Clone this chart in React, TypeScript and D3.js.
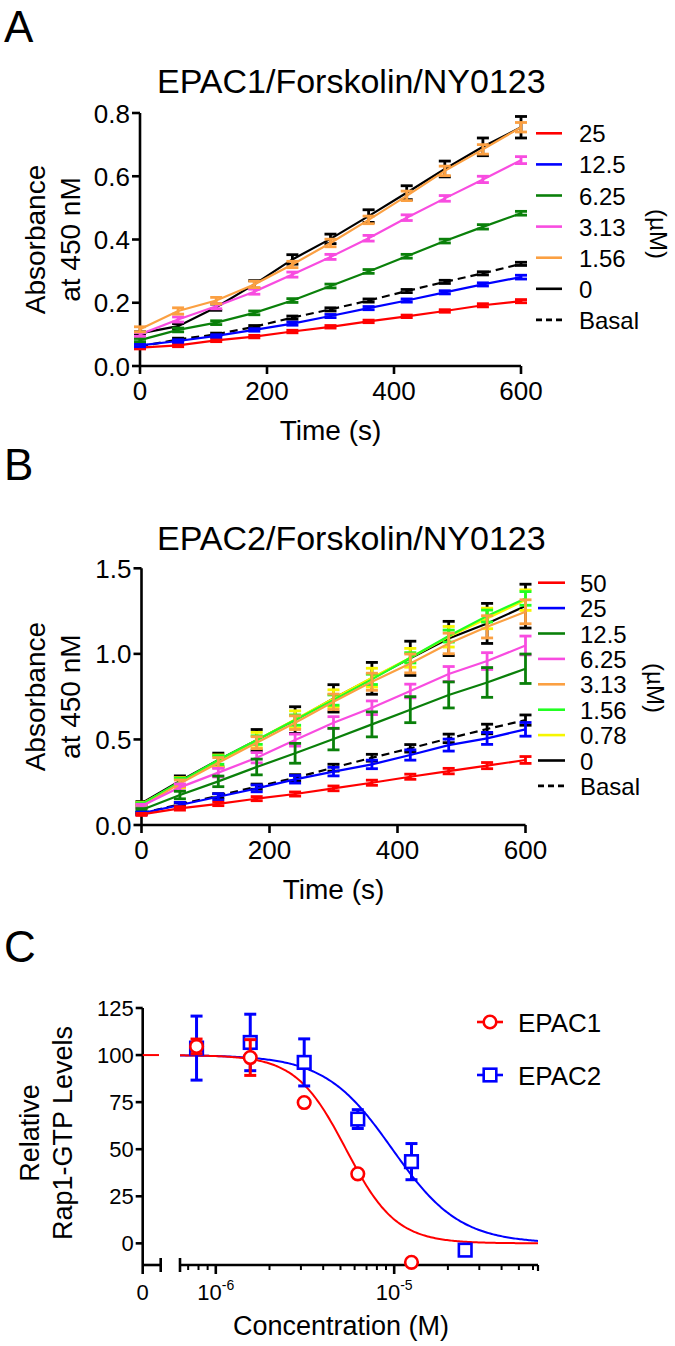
import React from "react";
import * as d3 from "d3";

const FONT = "'Liberation Sans', Arial, Helvetica, sans-serif";

const times = [0, 60, 120, 180, 240, 300, 360, 420, 480, 540, 600];

// ---------- Panel A : EPAC1/Forskolin/NY0123 ----------
const aNames = ["25", "12.5", "6.25", "3.13", "1.56", "0", "Basal"];
const a25 = [0.058, 0.065, 0.081, 0.093, 0.109, 0.124, 0.141, 0.157, 0.174, 0.192, 0.205];
const a25e = [0.004, 0.004, 0.004, 0.004, 0.004, 0.004, 0.004, 0.004, 0.004, 0.005, 0.005];
const a12_5 = [0.065, 0.079, 0.095, 0.114, 0.134, 0.158, 0.183, 0.207, 0.233, 0.258, 0.281];
const a12_5e = [0.004, 0.004, 0.004, 0.004, 0.005, 0.005, 0.005, 0.005, 0.005, 0.005, 0.006];
const a6_25 = [0.082, 0.114, 0.137, 0.168, 0.207, 0.253, 0.299, 0.347, 0.395, 0.44, 0.483];
const a6_25e = [0.005, 0.006, 0.006, 0.006, 0.006, 0.006, 0.006, 0.006, 0.006, 0.007, 0.006];
const a3_13 = [0.1, 0.147, 0.189, 0.235, 0.289, 0.345, 0.404, 0.469, 0.53, 0.59, 0.651];
const a3_13e = [0.006, 0.008, 0.008, 0.008, 0.008, 0.008, 0.009, 0.009, 0.009, 0.01, 0.011];
const a1_56 = [0.116, 0.174, 0.207, 0.258, 0.321, 0.389, 0.462, 0.538, 0.617, 0.685, 0.755];
const a1_56e = [0.008, 0.01, 0.01, 0.01, 0.01, 0.012, 0.012, 0.015, 0.015, 0.015, 0.015];
const a0 = [0.103, 0.126, 0.186, 0.258, 0.337, 0.402, 0.474, 0.548, 0.623, 0.693, 0.755];
const a0e = [0.005, 0.008, 0.01, 0.012, 0.015, 0.015, 0.02, 0.022, 0.025, 0.028, 0.034];
const aBasal = [0.062, 0.084, 0.1, 0.124, 0.153, 0.179, 0.207, 0.237, 0.266, 0.293, 0.323];
const aBasale = [0.004, 0.004, 0.004, 0.004, 0.005, 0.005, 0.005, 0.005, 0.005, 0.005, 0.005];
const aYTicks = [0, 0.2, 0.4, 0.6, 0.8];
const xTicks = [0, 200, 400, 600];

// ---------- Panel B : EPAC2/Forskolin/NY0123 ----------
const bNames = ["50", "25", "12.5", "6.25", "3.13", "1.56", "0.78", "0", "Basal"];
const b50 = [0.062, 0.097, 0.123, 0.154, 0.181, 0.214, 0.247, 0.282, 0.315, 0.347, 0.38];
const b50e = [0.006, 0.01, 0.01, 0.012, 0.012, 0.014, 0.015, 0.015, 0.016, 0.018, 0.02];
const b25 = [0.068, 0.117, 0.165, 0.214, 0.267, 0.312, 0.354, 0.409, 0.467, 0.506, 0.559];
const b25e = [0.008, 0.015, 0.018, 0.02, 0.022, 0.025, 0.025, 0.03, 0.035, 0.035, 0.04];
const b12_5 = [0.088, 0.175, 0.255, 0.339, 0.419, 0.502, 0.588, 0.674, 0.76, 0.833, 0.913];
const b12_5e = [0.008, 0.022, 0.031, 0.046, 0.058, 0.063, 0.073, 0.076, 0.076, 0.087, 0.086];
const b6_25 = [0.111, 0.22, 0.306, 0.393, 0.496, 0.598, 0.685, 0.783, 0.882, 0.958, 1.049];
const b6_25e = [0.01, 0.02, 0.025, 0.03, 0.035, 0.035, 0.04, 0.04, 0.044, 0.049, 0.055];
const b3_13 = [0.107, 0.243, 0.364, 0.481, 0.598, 0.72, 0.837, 0.944, 1.061, 1.158, 1.246];
const b3_13e = [0.01, 0.02, 0.03, 0.035, 0.04, 0.045, 0.05, 0.055, 0.06, 0.065, 0.07];
const b1_56 = [0.12, 0.253, 0.38, 0.496, 0.613, 0.73, 0.851, 0.977, 1.104, 1.221, 1.324];
const b1_56e = [0.01, 0.02, 0.025, 0.025, 0.03, 0.03, 0.03, 0.03, 0.035, 0.035, 0.04];
const b0_78 = [0.123, 0.247, 0.374, 0.496, 0.617, 0.74, 0.861, 0.977, 1.1, 1.207, 1.314];
const b0_78e = [0.01, 0.03, 0.035, 0.045, 0.05, 0.05, 0.055, 0.055, 0.06, 0.06, 0.06];
const b0 = [0.127, 0.257, 0.38, 0.496, 0.613, 0.74, 0.857, 0.974, 1.09, 1.178, 1.279];
const b0e = [0.01, 0.03, 0.04, 0.062, 0.078, 0.08, 0.093, 0.1, 0.1, 0.117, 0.128];
const bBasal = [0.068, 0.121, 0.171, 0.224, 0.276, 0.335, 0.393, 0.448, 0.506, 0.561, 0.613];
const bBasale = [0.006, 0.01, 0.012, 0.015, 0.018, 0.02, 0.02, 0.022, 0.025, 0.028, 0.03];
const bYTicks = [0, 0.5, 1.0, 1.5];

// ---------- Panel C : dose response ----------
const c1Conc = [0.78e-6, 1.56e-6, 3.13e-6, 6.25e-6, 12.5e-6];
const c1Mean = [104.6, 98.7, 74.8, 36.9, -10.1];
const c1Err = [3.9, 9.5, 0, 0, 0];
const c2Conc = [0.78e-6, 1.56e-6, 3.13e-6, 6.25e-6, 12.5e-6, 25e-6];
const c2Mean = [103.7, 106.7, 96.1, 66.0, 43.4, -3.6];
const c2Err = [17, 15, 12.5, 5, 9.6, 0];
// fitted 4-parameter logistic (top, bottom, logIC50, hill)
const c1Fit = [100, 0, -5.27, 3.1];
const c2Fit = [100, 0, -5.01, 2.3];
const cYTicks = [0, 25, 50, 75, 100, 125];
const cNames = ["EPAC1", "EPAC2"];

const RED = "#ff0000";
const BLUE = "#0000ff";
const DKGREEN = "#0a800a";
const MAGENTA = "#f84ce0";
const ORANGE = "#fba042";
const LTGREEN = "#22ff22";
const YELLOW = "#f6f600";
const BLACK = "#000000";

type Series = { name: string; color: string; dashed?: boolean; mean: number[]; err: number[] };

function LinePanel(props: {
  x: d3.ScaleLinear<number, number>;
  y: d3.ScaleLinear<number, number>;
  series: Series[];
  order: number[];
  yTicks: number[];
  title: string;
  titleY: number;
  letter: string;
  letterY: number;
  legTop: number;
  legStep: number;
  legX1: number;
  legX2: number;
  legTextX: number;
  unitX: number;
  unitY: number;
}) {
  const { x, y, series, order, yTicks } = props;
  const [x0, x1] = x.range();
  const [yb, yt] = y.range();
  const yMid = (yb + yt) / 2;
  const line = d3
    .line<number>()
    .x((_, i) => x(times[i]))
    .y((d) => y(d));
  const fmt = d3.format(".1f");
  return (
    <g>
      <text x={4} y={props.letterY} fontSize={44}>
        {props.letter}
      </text>
      <text x={157} y={props.titleY} fontSize={34}>
        {props.title}
      </text>
      {/* axes */}
      <line x1={x0} x2={x0} y1={yt} y2={yb} stroke="#000" strokeWidth={2.6} />
      <line x1={x0} x2={x1} y1={yb} y2={yb} stroke="#000" strokeWidth={2.6} />
      {yTicks.map((t) => (
        <g key={"yt" + t}>
          <line x1={x0 - 8} x2={x0} y1={y(t)} y2={y(t)} stroke="#000" strokeWidth={2.6} />
          <text x={x0 - 10} y={y(t) + 9.5} fontSize={26} textAnchor="end">
            {fmt(t)}
          </text>
        </g>
      ))}
      {xTicks.map((t) => (
        <g key={"xt" + t}>
          <line x1={x(t)} x2={x(t)} y1={yb} y2={yb + 8} stroke="#000" strokeWidth={2.6} />
          <text x={x(t)} y={yb + 34} fontSize={26} textAnchor="middle">
            {t}
          </text>
        </g>
      ))}
      <text x={(x0 + x1) / 2} y={yb + 74} fontSize={28} textAnchor="middle">
        Time (s)
      </text>
      <text transform={`translate(45,${yMid}) rotate(-90)`} fontSize={28} textAnchor="middle">
        Absorbance
      </text>
      <text transform={`translate(80,${yMid}) rotate(-90)`} fontSize={28} textAnchor="middle">
        at 450 nM
      </text>
      {/* series */}
      {order.map((si) => {
        const s = series[si];
        return (
          <g key={"s" + si}>
            <path
              d={line(s.mean) || ""}
              fill="none"
              stroke={s.color}
              strokeWidth={2.2}
              strokeDasharray={s.dashed ? "8,5" : undefined}
            />
            {s.mean.map((m, i) => {
              const cx = x(times[i]);
              const ya = y(m + s.err[i]);
              const yb2 = y(m - s.err[i]);
              return (
                <g key={i} stroke={s.color} strokeWidth={2.8}>
                  <line x1={cx} x2={cx} y1={ya} y2={yb2} />
                  <line x1={cx - 6} x2={cx + 6} y1={ya} y2={ya} />
                  <line x1={cx - 6} x2={cx + 6} y1={yb2} y2={yb2} />
                </g>
              );
            })}
          </g>
        );
      })}
      {/* legend */}
      {series.map((s, i) => {
        const ly = props.legTop + i * props.legStep;
        return (
          <g key={"l" + i}>
            <line
              x1={props.legX1}
              x2={props.legX2}
              y1={ly}
              y2={ly}
              stroke={s.color}
              strokeWidth={2.6}
              strokeDasharray={s.dashed ? "6,4" : undefined}
            />
            <text x={props.legTextX} y={ly + 9} fontSize={24}>
              {s.name}
            </text>
          </g>
        );
      })}
      <text
        transform={`translate(${props.unitX},${props.unitY}) rotate(90)`}
        fontSize={24}
        textAnchor="middle"
        dy="0.35em"
      >
        (µM)
      </text>
    </g>
  );
}

function DosePanel() {
  const xC = d3.scaleLog().domain([6.3e-7, 6.4e-5]).range([180, 538]);
  const yC = d3.scaleLinear().domain([-11.5, 125]).range([1265, 1008]);
  const yAxisX = 142.7;
  const axY = yC.range()[0];
  const lo = Math.log10(xC.domain()[0]);
  const hi = Math.log10(xC.domain()[1]);
  const samples = d3.range(0, 241).map((i) => Math.pow(10, lo + ((hi - lo) * i) / 240));
  const logistic = (p: number[]) => (c: number) =>
    p[1] + (p[0] - p[1]) / (1 + Math.pow(10, (Math.log10(c) - p[2]) * p[3]));
  const curve = (p: number[]) =>
    d3
      .line<number>()
      .x((c) => xC(c))
      .y((c) => yC(logistic(p)(c)))(samples) || "";
  const ticks = xC.ticks();
  const isMajor = (t: number) => Math.abs(Math.log10(t) - Math.round(Math.log10(t))) < 1e-6;
  const errBars = (conc: number[], mean: number[], err: number[], color: string) =>
    conc.map((c, i) =>
      err[i] > 0 ? (
        <g key={"e" + i} stroke={color} strokeWidth={3}>
          <line x1={xC(c)} x2={xC(c)} y1={yC(mean[i] + err[i])} y2={yC(mean[i] - err[i])} />
          <line x1={xC(c) - 6} x2={xC(c) + 6} y1={yC(mean[i] + err[i])} y2={yC(mean[i] + err[i])} />
          <line x1={xC(c) - 6} x2={xC(c) + 6} y1={yC(mean[i] - err[i])} y2={yC(mean[i] - err[i])} />
        </g>
      ) : null
    );
  return (
    <g>
      <text x={4} y={962} fontSize={44}>
        C
      </text>
      {/* y axis */}
      <line x1={yAxisX} x2={yAxisX} y1={yC(125)} y2={axY} stroke="#000" strokeWidth={2.6} />
      {cYTicks.map((t) => (
        <g key={"cy" + t}>
          <line x1={yAxisX - 7} x2={yAxisX} y1={yC(t)} y2={yC(t)} stroke="#000" strokeWidth={2.6} />
          <text x={yAxisX - 9} y={yC(t) + 8} fontSize={22} textAnchor="end">
            {t}
          </text>
        </g>
      ))}
      {/* x axis: zero segment */}
      <line x1={yAxisX} x2={160.7} y1={axY} y2={axY} stroke="#000" strokeWidth={2.6} />
      <line x1={160.7} x2={160.7} y1={axY - 7} y2={axY + 7} stroke="#000" strokeWidth={2.6} />
      <line x1={yAxisX} x2={yAxisX} y1={axY} y2={axY + 9} stroke="#000" strokeWidth={2.6} />
      <text x={yAxisX} y={1300} fontSize={22} textAnchor="middle">
        0
      </text>
      {/* x axis: log segment */}
      <line x1={xC.range()[0]} x2={xC.range()[1]} y1={axY} y2={axY} stroke="#000" strokeWidth={2.6} />
      <line x1={xC.range()[0]} x2={xC.range()[0]} y1={axY - 7} y2={axY + 7} stroke="#000" strokeWidth={2.6} />
      <line x1={xC.range()[1]} x2={xC.range()[1]} y1={axY} y2={axY + 6} stroke="#000" strokeWidth={2.2} />
      {ticks.map((t, i) => (
        <line
          key={"xt" + i}
          x1={xC(t)}
          x2={xC(t)}
          y1={axY}
          y2={axY + (isMajor(t) ? 9 : 5)}
          stroke="#000"
          strokeWidth={isMajor(t) ? 2.6 : 2}
        />
      ))}
      {ticks.filter(isMajor).map((t, i) => (
        <text key={"xl" + i} x={xC(t)} y={1300} fontSize={22} textAnchor="middle">
          10
          <tspan fontSize={14} dy={-10}>
            {Math.round(Math.log10(t))}
          </tspan>
        </text>
      ))}
      <text x={341} y={1335} fontSize={27} textAnchor="middle">
        Concentration (M)
      </text>
      <text transform={`translate(39,1133) rotate(-90)`} fontSize={27} textAnchor="middle">
        Relative
      </text>
      <text transform={`translate(72,1133) rotate(-90)`} fontSize={27} textAnchor="middle">
        Rap1-GTP Levels
      </text>
      {/* fits */}
      <line x1={yAxisX} x2={159} y1={yC(100)} y2={yC(100)} stroke={RED} strokeWidth={2} />
      <path d={curve(c2Fit)} fill="none" stroke={BLUE} strokeWidth={2} />
      <path d={curve(c1Fit)} fill="none" stroke={RED} strokeWidth={2} />
      {/* EPAC2 */}
      {errBars(c2Conc, c2Mean, c2Err, BLUE)}
      {c2Conc.map((c, i) => (
        <rect
          key={"sq" + i}
          x={xC(c) - 6.3}
          y={yC(c2Mean[i]) - 6.3}
          width={12.6}
          height={12.6}
          fill="#fff"
          stroke={BLUE}
          strokeWidth={2.6}
        />
      ))}
      {/* EPAC1 */}
      {errBars(c1Conc, c1Mean, c1Err, RED)}
      {c1Conc.map((c, i) => (
        <circle key={"ci" + i} cx={xC(c)} cy={yC(c1Mean[i])} r={6.3} fill="#fff" stroke={RED} strokeWidth={2.6} />
      ))}
      {/* legend */}
      <line x1={477} x2={503} y1={1022} y2={1022} stroke={RED} strokeWidth={2.6} />
      <circle cx={490} cy={1022} r={6.3} fill="#fff" stroke={RED} strokeWidth={2.6} />
      <text x={518} y={1031.5} fontSize={26}>
        {cNames[0]}
      </text>
      <line x1={477} x2={503} y1={1075} y2={1075} stroke={BLUE} strokeWidth={2.6} />
      <rect x={483.7} y={1068.7} width={12.6} height={12.6} fill="#fff" stroke={BLUE} strokeWidth={2.6} />
      <text x={518} y={1084.5} fontSize={26}>
        {cNames[1]}
      </text>
    </g>
  );
}

export default function App() {
  const xA = d3.scaleLinear().domain([0, 600]).range([140, 521]);
  const yA = d3.scaleLinear().domain([0, 0.8]).range([366, 113]);
  const xB = d3.scaleLinear().domain([0, 600]).range([141.5, 525.5]);
  const yB = d3.scaleLinear().domain([0, 1.5]).range([825, 568.3]);

  const aSeries: Series[] = [
    { name: aNames[0], color: RED, mean: a25, err: a25e },
    { name: aNames[1], color: BLUE, mean: a12_5, err: a12_5e },
    { name: aNames[2], color: DKGREEN, mean: a6_25, err: a6_25e },
    { name: aNames[3], color: MAGENTA, mean: a3_13, err: a3_13e },
    { name: aNames[4], color: ORANGE, mean: a1_56, err: a1_56e },
    { name: aNames[5], color: BLACK, mean: a0, err: a0e },
    { name: aNames[6], color: BLACK, dashed: true, mean: aBasal, err: aBasale },
  ];
  const bSeries: Series[] = [
    { name: bNames[0], color: RED, mean: b50, err: b50e },
    { name: bNames[1], color: BLUE, mean: b25, err: b25e },
    { name: bNames[2], color: DKGREEN, mean: b12_5, err: b12_5e },
    { name: bNames[3], color: MAGENTA, mean: b6_25, err: b6_25e },
    { name: bNames[4], color: ORANGE, mean: b3_13, err: b3_13e },
    { name: bNames[5], color: LTGREEN, mean: b1_56, err: b1_56e },
    { name: bNames[6], color: YELLOW, mean: b0_78, err: b0_78e },
    { name: bNames[7], color: BLACK, mean: b0, err: b0e },
    { name: bNames[8], color: BLACK, dashed: true, mean: bBasal, err: bBasale },
  ];

  return (
    <svg
      width={675}
      height={1346}
      viewBox="0 0 675 1346"
      style={{ position: "absolute", left: 0, top: 0, background: "#fff" }}
      fontFamily={FONT}
    >
      <rect x={0} y={0} width={675} height={1346} fill="#fff" />
      <LinePanel
        x={xA}
        y={yA}
        series={aSeries}
        order={[6, 5, 0, 1, 2, 3, 4]}
        yTicks={aYTicks}
        title="EPAC1/Forskolin/NY0123"
        titleY={93}
        letter="A"
        letterY={42}
        legTop={133.3}
        legStep={31.1}
        legX1={536}
        legX2={562}
        legTextX={579}
        unitX={658}
        unitY={234}
      />
      <LinePanel
        x={xB}
        y={yB}
        series={bSeries}
        order={[7, 8, 6, 5, 4, 3, 2, 1, 0]}
        yTicks={bYTicks}
        title="EPAC2/Forskolin/NY0123"
        titleY={550}
        letter="B"
        letterY={480}
        legTop={582.7}
        legStep={25.4}
        legX1={538}
        legX2={565}
        legTextX={580}
        unitX={655}
        unitY={688}
      />
      <DosePanel />
    </svg>
  );
}
